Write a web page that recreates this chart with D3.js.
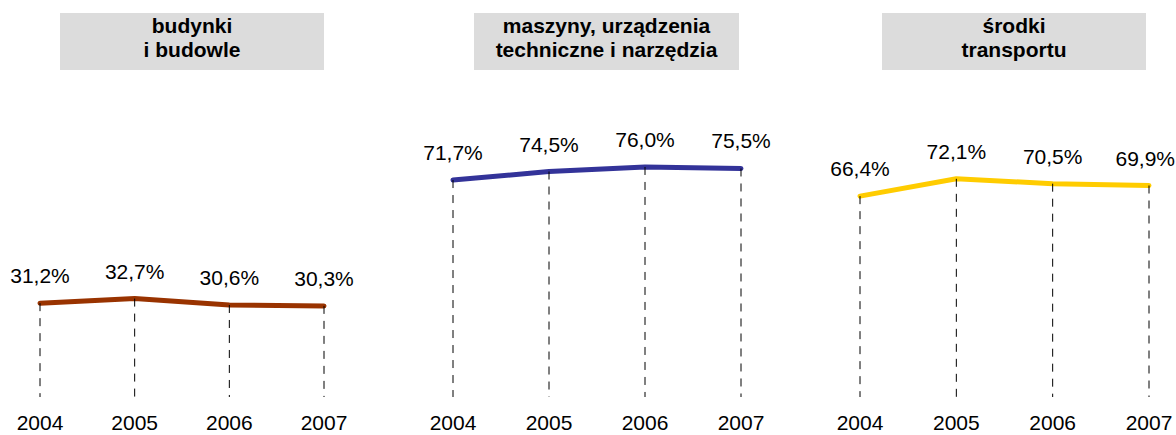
<!DOCTYPE html>
<html>
<head>
<meta charset="utf-8">
<script src="https://cdn.jsdelivr.net/npm/d3@7"></script>
<style>
  html, body { margin: 0; padding: 0; background: #ffffff; }
  svg { display: block; }
  text { font-family: "Liberation Sans", Arial, sans-serif; fill: #000; }
</style>
</head>
<body>
<svg id="chart" width="1176" height="435"></svg>
<script>
// ---- data ----
const years = ["2004", "2005", "2006", "2007"];
const panelTitles = [
  ["budynki", "i budowle"],
  ["maszyny, urządzenia", "techniczne i narzędzia"],
  ["środki", "transportu"]
];
const buildings = [31.2, 32.7, 30.6, 30.3];
const machinery = [71.7, 74.5, 76.0, 75.5];
const transport = [66.4, 72.1, 70.5, 69.9];
const seriesColors = ["#993300", "#333399", "#FFCC00"];

// ---- layout ----
const W = 1176;
const svg = d3.select("#chart");
const y = d3.scaleLinear().domain([0, 100]).range([398, 94]);
const panels = [
  { values: buildings, x0: 40, x1: 324, box: [60, 324] },
  { values: machinery, x0: 453, x1: 741, box: [474, 739] },
  { values: transport, x0: 860, x1: 1149, box: [882, 1146] }
];
const fmt = v => v.toFixed(1).replace(".", ",") + "%";

panels.forEach((p, i) => {
  const g = svg.append("g");
  const x = d3.scalePoint().domain(years).range([p.x0, p.x1]);
  const data = years.map((yr, k) => ({ yr, v: p.values[k] }));

  // title box
  g.append("rect")
    .attr("x", p.box[0]).attr("y", 13)
    .attr("width", p.box[1] - p.box[0]).attr("height", 57)
    .attr("fill", "#dcdcdc");
  const cx = (p.box[0] + p.box[1]) / 2;
  panelTitles[i].forEach((t, j) => {
    g.append("text")
      .attr("x", cx).attr("y", 33 + j * 24)
      .attr("text-anchor", "middle")
      .attr("font-size", 21).attr("font-weight", "bold")
      .text(t);
  });

  // line
  g.append("path")
    .datum(data)
    .attr("fill", "none")
    .attr("stroke", seriesColors[i])
    .attr("stroke-width", 5)
    .attr("stroke-linecap", "round")
    .attr("stroke-linejoin", "round")
    .attr("d", d3.line().x(d => x(d.yr)).y(d => y(d.v)));

  // dashed drop lines
  g.selectAll(".drop").data(data).enter().append("line")
    .attr("x1", d => x(d.yr)).attr("x2", d => x(d.yr))
    .attr("y1", d => y(d.v)).attr("y2", y(0) - 1)
    .attr("stroke", "#000").attr("stroke-width", 1)
    .attr("stroke-dasharray", "8,7");

  // value labels
  g.selectAll(".val").data(data).enter().append("text")
    .attr("y", d => y(d.v) - 20)
    .attr("text-anchor", "middle")
    .attr("font-size", 21)
    .text(d => fmt(d.v))
    .attr("x", function(d) {
      const half = this.getComputedTextLength() / 2;
      return Math.min(x(d.yr), W - 1 - half);
    });

  // year labels
  g.selectAll(".yr").data(data).enter().append("text")
    .attr("y", 430)
    .attr("text-anchor", "middle")
    .attr("font-size", 21)
    .text(d => d.yr)
    .attr("x", function(d) {
      const half = this.getComputedTextLength() / 2;
      return Math.min(x(d.yr), W - 1 - half);
    });
});
</script>
</body>
</html>
